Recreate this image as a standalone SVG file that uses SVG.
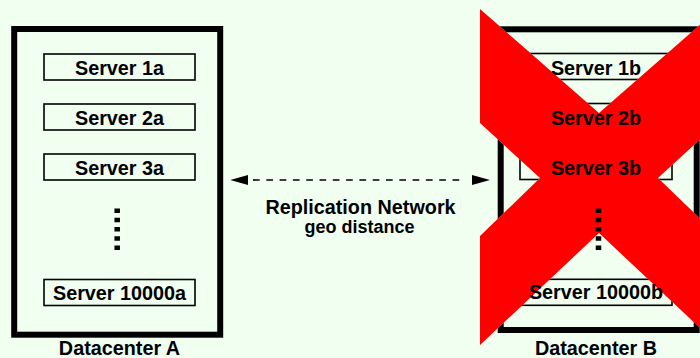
<svg xmlns="http://www.w3.org/2000/svg" width="700" height="358" viewBox="0 0 700 358">
<style>
  .bg { fill: #f0fff0; }
  .dc { fill: none; stroke: #000; stroke-width: 6; }
  .srv { fill: none; stroke: #000; stroke-width: 1.6; }
  .lbl { font-family: "Liberation Sans", Arial, sans-serif; font-weight: bold; font-size: 19.8px; fill: #000; text-anchor: middle; }
  .sub { font-size: 18px; }
  .dots { stroke: #000; stroke-width: 5.5; stroke-dasharray: 4.5 4.75; fill: none; }
  .link { stroke: #000; stroke-width: 1.7; stroke-dasharray: 6.7 6.6; fill: none; }
  .fail { fill: #ff0000; }
</style>
<defs>
  <marker id="arrow" viewBox="0 0 18 10" refX="0" refY="5" markerWidth="18" markerHeight="10" markerUnits="userSpaceOnUse" orient="auto-start-reverse">
    <path d="M0,0 L18,5 L0,10 Z" fill="#000"/>
  </marker>
  <mask id="x-hide" maskUnits="userSpaceOnUse" x="0" y="0" width="700" height="358">
    <rect x="0" y="0" width="700" height="358" fill="#fff"/>
    <polygon points="480,9 599,113 718,9 718,123 658,178 718,236 718,345 599,233 480,345 480,236 540,178 480,123" fill="#000"/>
  </mask>
</defs>
<rect class="bg" x="0" y="0" width="700" height="358"/>

<g id="datacenter-a">
  <rect class="dc" x="14.2" y="29" width="206" height="305.7"/>
  <text class="lbl" x="119.5" y="355">Datacenter A</text>
  <g id="server-1a"><rect class="srv" x="44" y="54" width="151" height="26"/><text class="lbl" x="119.5" y="75">Server 1a</text></g>
  <g id="server-2a"><rect class="srv" x="44" y="104" width="151" height="26"/><text class="lbl" x="119.5" y="125">Server 2a</text></g>
  <g id="server-3a"><rect class="srv" x="44" y="154" width="151" height="26"/><text class="lbl" x="119.5" y="175">Server 3a</text></g>
  <line id="more-a" class="dots" x1="117.2" y1="208.5" x2="117.2" y2="250"/>
  <g id="server-10000a"><rect class="srv" x="44" y="279.5" width="151" height="26"/><text class="lbl" x="119.5" y="299.5">Server 10000a</text></g>
</g>

<g id="connectors">
  <line class="link" x1="253" y1="180" x2="460" y2="180"/>
  <line x1="248.3" y1="180" x2="253" y2="180" stroke="none" marker-start="url(#arrow)"/>
  <line x1="466" y1="180" x2="472" y2="180" stroke="none" marker-end="url(#arrow)"/>
  <text class="lbl" x="360.5" y="214.3">Replication Network</text>
  <text class="lbl sub" x="359.5" y="233">geo distance</text>
</g>

<polygon id="failure-mark" class="fail" points="480,9 599,113 718,9 718,123 658,178 718,236 718,345 599,233 480,345 480,236 540,178 480,123"/>

<g id="datacenter-b">
  <rect class="dc" x="500.7" y="29.3" width="196" height="300.7" mask="url(#x-hide)"/>
  <text class="lbl" x="596" y="355">Datacenter B</text>
  <g id="server-1b"><rect class="srv" x="520" y="53.5" width="152" height="26" mask="url(#x-hide)"/><text class="lbl" x="596" y="74.5">Server 1b</text></g>
  <g id="server-2b"><rect class="srv" x="520" y="103.5" width="152" height="26" mask="url(#x-hide)"/><text class="lbl" x="596" y="124.5">Server 2b</text></g>
  <g id="server-3b"><rect class="srv" x="520" y="153.5" width="152" height="26" mask="url(#x-hide)"/><text class="lbl" x="596" y="174.5">Server 3b</text></g>
  <line id="more-b" class="dots" x1="598.5" y1="208.5" x2="598.5" y2="250"/>
  <g id="server-10000b"><rect class="srv" x="520" y="279.3" width="152" height="26" mask="url(#x-hide)"/><text class="lbl" x="596" y="299">Server 10000b</text></g>
</g>
</svg>
